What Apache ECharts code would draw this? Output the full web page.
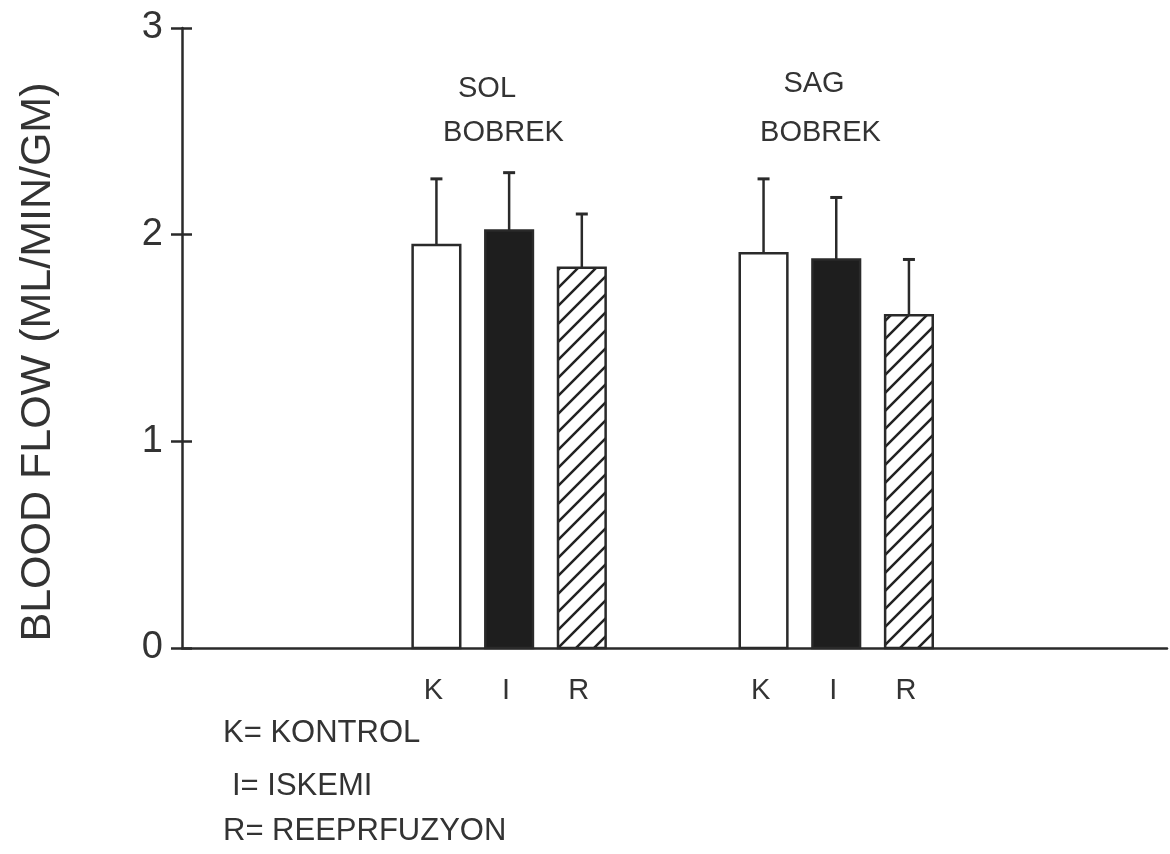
<!DOCTYPE html>
<html><head><meta charset="utf-8">
<script src="https://cdn.jsdelivr.net/npm/echarts@6/dist/echarts.min.js"></script>
<style>html,body{margin:0;padding:0;background:#fff}#c{width:1170px;height:854px}</style>
</head><body><div id="c"></div>
<script>
// ---- data ----
const categories = ['K', 'I', 'R'];
const groupTop = ['SOL', 'SAG'];
const groupBottom = ['BOBREK', 'BOBREK'];
const solMean = [1.95, 2.02, 1.84];
const solSD = [0.32, 0.28, 0.26];
const sagMean = [1.91, 1.88, 1.61];
const sagSD = [0.36, 0.30, 0.27];
const yTicks = [0, 1, 2, 3];
const legendLines = ['K= KONTROL', 'I= ISKEMI', 'R= REEPRFUZYON'];
const yTitle = 'BLOOD FLOW (ML/MIN/GM)';

// ---- layout ----
const FONT = '"Liberation Sans", Arial, Helvetica, sans-serif';
const INK = '#2a2a2a';
const TXT = '#333';
const GROUP_START = [3.5, 8.0];
const X_MAX = 13.55;
const BAR_W = 0.655;

const means = [solMean, sagMean];
const sds = [solSD, sagSD];
const items = [];
const tickPos = [];
const labelAt = {};
for (let g = 0; g < 2; g++) {
  for (let i = 0; i < categories.length; i++) {
    const x = GROUP_START[g] + i;
    items.push([x, means[g][i], sds[g][i], i]);
    tickPos.push(x);
    labelAt[Math.round(x * 100)] = categories[i];
  }
}

function hatch() {
  const s = 18;
  const c = document.createElement('canvas');
  c.width = s; c.height = s;
  const x = c.getContext('2d');
  x.fillStyle = '#fff'; x.fillRect(0, 0, s, s);
  x.strokeStyle = '#222'; x.lineWidth = 2.5;
  x.beginPath();
  x.moveTo(-2, s + 2); x.lineTo(s + 2, -2);
  x.moveTo(-s / 2 - 2, s / 2 + 2); x.lineTo(s / 2 + 2, -s / 2 - 2);
  x.moveTo(s / 2 - 2, s * 1.5 + 2); x.lineTo(s * 1.5 + 2, s / 2 - 2);
  x.stroke();
  return c;
}
const hatchCanvas = hatch();

const chart = echarts.init(document.getElementById('c'), null, { renderer: 'canvas' });
const yAxisBase = { type: 'value', min: 0, max: 3, interval: 1, splitLine: { show: false } };

chart.setOption({
  animation: false,
  backgroundColor: '#fff',
  grid: { left: 182, right: 3, top: 28, bottom: 206, containLabel: false },
  xAxis: {
    type: 'value', min: 0, max: X_MAX,
    splitLine: { show: false },
    axisLine: { show: true, onZero: true, lineStyle: { color: INK, width: 2.5 } },
    axisTick: { show: false },
    axisLabel: {
      show: true, customValues: tickPos, margin: 28,
      fontSize: 29, color: TXT, fontFamily: FONT, padding: [0, 6, 0, 0],
      formatter: v => labelAt[Math.round(v * 100)] || ''
    }
  },
  yAxis: [
    Object.assign({}, yAxisBase, {
      axisLine: { show: true, lineStyle: { color: INK, width: 2.5 } },
      axisTick: { show: true, inside: false, length: 11, lineStyle: { color: INK, width: 2.5 } },
      axisLabel: { fontSize: 38, color: TXT, fontFamily: FONT, margin: 19,
        formatter: v => yTicks.includes(v) ? String(v) : '' },
      name: yTitle, nameLocation: 'middle', nameGap: 122, nameRotate: 90,
      nameTextStyle: { fontSize: 43, color: TXT, fontFamily: FONT, padding: [0, 48, 0, 0] }
    }),
    Object.assign({}, yAxisBase, {
      position: 'left',
      axisLine: { show: false },
      axisTick: { show: true, inside: true, length: 10, lineStyle: { color: INK, width: 2.5 } },
      axisLabel: { show: false }
    })
  ],
  series: [{
    type: 'custom',
    xAxisIndex: 0, yAxisIndex: 0,
    data: items,
    renderItem: function (params, api) {
      const x = api.value(0), m = api.value(1), sd = api.value(2), k = api.value(3);
      const base = api.coord([x, 0]);
      const top = api.coord([x, m]);
      const eTop = api.coord([x, m + sd]);
      const w = api.size([BAR_W, 0])[0];
      const fill = k === 0 ? '#fff' : (k === 1 ? '#1e1e1e' : { image: hatchCanvas, repeat: 'repeat' });
      return {
        type: 'group',
        children: [
          { type: 'line', shape: { x1: top[0], y1: top[1], x2: eTop[0], y2: eTop[1] },
            style: { stroke: INK, lineWidth: 2.5 } },
          { type: 'line', shape: { x1: eTop[0] - 6, y1: eTop[1], x2: eTop[0] + 6, y2: eTop[1] },
            style: { stroke: INK, lineWidth: 3 } },
          { type: 'rect', shape: { x: base[0] - w / 2, y: top[1], width: w, height: base[1] - top[1] },
            style: { fill: fill, stroke: INK, lineWidth: 2.5 } }
        ]
      };
    }
  }],
  graphic: [
    { type: 'text', x: 487, y: 88.5, style: { text: groupTop[0], font: '29px ' + FONT, fill: TXT, align: 'center', verticalAlign: 'middle' } },
    { type: 'text', x: 503.5, y: 132.5, style: { text: groupBottom[0], font: '29px ' + FONT, fill: TXT, align: 'center', verticalAlign: 'middle' } },
    { type: 'text', x: 814, y: 84, style: { text: groupTop[1], font: '29px ' + FONT, fill: TXT, align: 'center', verticalAlign: 'middle' } },
    { type: 'text', x: 820.5, y: 132.5, style: { text: groupBottom[1], font: '29px ' + FONT, fill: TXT, align: 'center', verticalAlign: 'middle' } },
    { type: 'text', x: 223, y: 733, style: { text: legendLines[0], font: '31px ' + FONT, fill: TXT, align: 'left', verticalAlign: 'middle' } },
    { type: 'text', x: 232, y: 786, style: { text: legendLines[1], font: '31px ' + FONT, fill: TXT, align: 'left', verticalAlign: 'middle' } },
    { type: 'text', x: 223, y: 831, style: { text: legendLines[2], font: '31px ' + FONT, fill: TXT, align: 'left', verticalAlign: 'middle' } }
  ]
});
</script>
</body></html>
